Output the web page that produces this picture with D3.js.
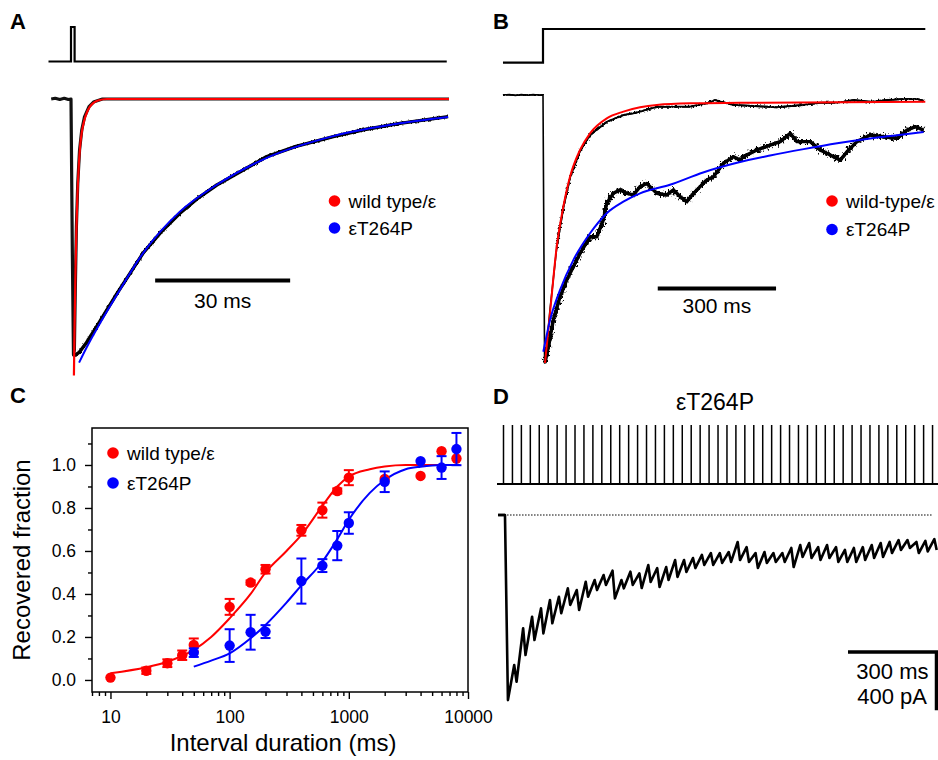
<!DOCTYPE html>
<html>
<head>
<meta charset="utf-8">
<script src="https://cdn.jsdelivr.net/npm/d3@7"></script>
<style>
    body { margin: 0; background: #fff; }
    text { font-family: "Liberation Sans", Arial, Helvetica, sans-serif; }
</style>
</head>
<body>
<div id="figure"></div>
<script>
// ---- Panel A: 1 ms pulse, current normalised to peak (time in ms) ----
const aWildTrace = [[-4.4, 0], [-3.5, 0.003], [-2.5, -0.002], [-1.5, 0.003], [-0.6, -0.002], [0, 0],
    [0.3, -0.6], [0.55, -1.0], [0.75, -0.98], [0.95, -0.75], [1.2, -0.5], [1.5, -0.33], [1.9, -0.2],
    [2.4, -0.12], [3, -0.07], [4, -0.03], [5, -0.012], [7, 0], [84, 0]];
const aMutTrace = [[0.55, -1.0], [1.0, -1.0], [1.8, -0.99], [3.5, -0.95], [6, -0.88], [10.2, -0.76],
    [16.1, -0.6], [20, -0.52], [24.2, -0.446], [28, -0.39], [32.4, -0.336], [38, -0.28], [43.5, -0.225],
    [50, -0.185], [58.3, -0.147], [65, -0.12], [73.1, -0.095], [83.8, -0.069]];
const aWildFit = [[0.65, -1.08], [0.8, -0.88], [1.0, -0.67], [1.2, -0.51], [1.4, -0.39], [1.7, -0.27],
    [2.0, -0.19], [2.4, -0.13], [3.0, -0.08], [3.6, -0.05], [4.2, -0.03], [5, -0.015], [6, -0.006],
    [8, 0], [84, 0]];
const aMutFit = [[1.8, -1.03], [3.5, -0.97], [6, -0.89], [10.2, -0.765], [16.1, -0.6], [24.2, -0.44],
    [32.4, -0.335], [43.5, -0.23], [58.3, -0.145], [73.1, -0.095], [83.8, -0.07]];
const aStimulus = [[-5, 0], [0, 0], [0, 1], [0.8, 1], [0.8, 0], [83.5, 0]];

// ---- Panel B: 1 s pulse ----
const bWildTrace = [[-101.5, 0], [-85, 0.002], [-70, -0.002], [-55, 0.002], [-40, -0.001], [-25, 0.002],
    [-10, -0.001], [0, 0], [4, -1.0], [5.1, -1.0], [17.8, -0.8], [34.8, -0.57], [51.5, -0.42], [68.5, -0.31],
    [93.9, -0.21], [119.3, -0.15], [161.7, -0.1], [203.8, -0.075], [229.2, -0.068], [246.2, -0.062],
    [288.6, -0.044], [330.7, -0.044], [373.1, -0.044], [415.5, -0.031], [436.5, -0.019], [483, -0.037],
    [533.8, -0.041], [593.1, -0.046], [660.7, -0.037], [703, -0.029], [745.4, -0.029], [787.6, -0.019],
    [829.9, -0.025], [872.3, -0.019], [914.5, -0.015], [948.5, -0.015], [965.2, -0.021]];
const bMutTrace = [[5.1, -1.0], [13.5, -0.939], [26.1, -0.84], [43.1, -0.753], [60.2, -0.69], [76.9, -0.641],
    [93.9, -0.591], [119.3, -0.529], [136.3, -0.529], [153, -0.466], [161.7, -0.404], [178.4, -0.367],
    [195.4, -0.354], [212.4, -0.367], [229.2, -0.373], [246.2, -0.342], [263.2, -0.33], [288.6, -0.367],
    [314, -0.373], [330.7, -0.354], [347.7, -0.379], [364.7, -0.398], [381.5, -0.367], [398.5, -0.342],
    [415.5, -0.317], [432.2, -0.305], [457.6, -0.255], [483, -0.23], [500, -0.243], [508.4, -0.23],
    [542.4, -0.205], [576.1, -0.187], [601.5, -0.174], [626.9, -0.143], [643.9, -0.174], [677.7, -0.174],
    [703, -0.205], [728.4, -0.224], [753.8, -0.243], [770.8, -0.212], [796.2, -0.174], [829.9, -0.149],
    [863.7, -0.156], [897.7, -0.162], [923.1, -0.131], [944.2, -0.118], [965.2, -0.131]];
const bWildFit = [[5.1, -1.0], [17.8, -0.813], [34.8, -0.566], [51.5, -0.417], [68.5, -0.305], [93.9, -0.205],
    [119.3, -0.143], [161.7, -0.087], [203.8, -0.062], [246.2, -0.046], [288.6, -0.037], [373, -0.031],
    [500, -0.029], [969.5, -0.025]];
const bMutFit = [[0.8, -0.958], [17.8, -0.84], [43.1, -0.728], [76.9, -0.616], [119.3, -0.516], [161.7, -0.441],
    [203.8, -0.398], [246.2, -0.367], [322, -0.335], [406, -0.289], [492, -0.253], [576, -0.226], [661, -0.202],
    [746, -0.18], [830, -0.162], [898, -0.15], [965, -0.138]];
const bStimulus = [[-101.5, 0], [0, 0], [0, 1], [969.5, 1]];

// ---- Panel C: recovery from desensitization ----
const cWildIntervals = [10, 20, 30, 40, 50, 100, 150, 200, 400, 600, 800, 1000, 2000, 4000, 6000, 8000];
const cWildMean = [0.011, 0.043, 0.078, 0.115, 0.163, 0.34, 0.453, 0.515, 0.696, 0.79, 0.879, 0.941, 0.935, 0.949, 1.064, 1.03];
const cWildErr = [0, 0.015, 0.018, 0.022, 0.03, 0.037, 0.01, 0.02, 0.025, 0.035, 0.012, 0.035, 0, 0, 0, 0];
const cMutIntervals = [50, 100, 150, 200, 400, 600, 800, 1000, 2000, 4000, 6000, 8000];
const cMutMean = [0.127, 0.16, 0.222, 0.225, 0.46, 0.532, 0.625, 0.73, 0.922, 1.018, 0.988, 1.074];
const cMutErr = [0.02, 0.076, 0.081, 0.03, 0.105, 0.03, 0.068, 0.05, 0.048, 0, 0.053, 0.075];
const cWildFitX = [10, 20, 30, 50, 70, 100, 150, 200, 300, 400, 600, 800, 1000, 1500, 2000, 3000, 5000, 8500];
const cWildFitY = [0.031, 0.059, 0.085, 0.14, 0.2, 0.287, 0.4, 0.5, 0.6, 0.675, 0.81, 0.9, 0.946, 0.98, 0.993, 1.0, 1.0, 1.0];
const cMutFitX = [50, 70, 100, 150, 200, 300, 400, 600, 800, 1000, 1500, 2000, 3000, 4000, 6000, 8500];
const cMutFitY = [0.062, 0.09, 0.124, 0.194, 0.256, 0.36, 0.44, 0.55, 0.655, 0.745, 0.87, 0.93, 0.98, 0.992, 1.0, 1.0];
const cMajorX = [10, 100, 1000, 10000];
const cMajorY = [0, 0.2, 0.4, 0.6, 0.8, 1.0];
const cMinorY = [0.1, 0.3, 0.5, 0.7, 0.9, 1.1];

// ---- Panel D: 33 Hz train, eT264P (current in pA) ----
const dStimInterval = 30.3;
const dStimCount = 49;
const dPeak = -1270;
const dHighs = [-1029, -777, -698, -640, -583, -561, -503, -515, -458, -446, -412, -382, -446, -389, -400,
    -343, -364, -357, -309, -309, -295, -274, -261, -261, -254, -185, -220, -261, -254, -261,
    -261, -226, -206, -192, -220, -206, -220, -240, -226, -220, -206, -192, -185, -172, -172, -185, -178, -165];
const dLows = [-1144, -961, -858, -812, -743, -674, -617, -652, -561, -515, -480, -572, -503, -480, -501,
    -460, -494, -446, -425, -391, -364, -343, -343, -329, -322, -309, -322, -364, -329, -322,
    -322, -357, -288, -295, -309, -295, -322, -322, -322, -309, -295, -288, -261, -240, -226, -261, -250, -240];

const RED = "#ff0000", BLUE = "#0000ff";

const svg = d3.select("#figure").append("svg")
    .attr("width", 938)
    .attr("height", 760)
    .style("background", "#fff");

// recording noise look for the raw traces (rendering effect only)
const defs = svg.append("defs");
function noiseFilter(id, freq, scale) {
    const f = defs.append("filter").attr("id", id)
        .attr("x", "-5%").attr("y", "-10%").attr("width", "110%").attr("height", "120%");
    f.append("feTurbulence")
        .attr("type", "fractalNoise")
        .attr("baseFrequency", freq)
        .attr("numOctaves", 2)
        .attr("seed", 4)
        .attr("result", "noise");
    f.append("feDisplacementMap")
        .attr("in", "SourceGraphic").attr("in2", "noise")
        .attr("scale", scale)
        .attr("xChannelSelector", "R").attr("yChannelSelector", "G");
}
noiseFilter("noiseB", "0.6 0.35", 10);
noiseFilter("noiseA", "0.7 0.4", 4);

function linePath(x, y, curve) {
    return d3.line()
        .x(d => x(d[0]))
        .y(d => y(d[1]))
        .curve(curve || d3.curveLinear);
}

// raw trace: solid core plus a noisy overlay
function rawTrace(g, d, core, hair, filterId) {
    g.append("path")
        .attr("d", d)
        .attr("fill", "none").attr("stroke", "#000").attr("stroke-width", core)
        .attr("stroke-linejoin", "round");
    g.append("path")
        .attr("d", d)
        .attr("fill", "none").attr("stroke", "#000").attr("stroke-width", hair)
        .attr("stroke-linejoin", "round")
        .attr("filter", "url(#" + filterId + ")");
}

function panelLabel(letter, x, y) {
    svg.append("text")
        .attr("x", x).attr("y", y)
        .style("font-size", "22px")
        .style("font-weight", "bold")
        .text(letter);
}

function legend(g, x, y, items, size) {
    items.forEach(function (it, i) {
        g.append("circle")
            .attr("cx", x).attr("cy", y + i * it.step)
            .attr("r", 5.8)
            .attr("fill", it.color);
        g.append("text")
            .attr("x", x + 14).attr("y", y + i * it.step + 6.5)
            .style("font-size", size + "px")
            .text(it.label);
    });
}

// ================= Panel A =================
panelLabel("A", 10, 29);
const gA = svg.append("g");
const xA = d3.scaleLinear().domain([0, 30]).range([71, 206]);
const yA = d3.scaleLinear().domain([0, -1]).range([99, 355]);
const yAStim = d3.scaleLinear().domain([0, 1]).range([61.5, 27]);

gA.append("path")
    .attr("d", linePath(xA, yAStim)(aStimulus))
    .attr("fill", "none").attr("stroke", "#000").attr("stroke-width", 2.2);

gA.append("path")
    .attr("d", linePath(xA, yA)(aWildTrace))
    .attr("fill", "none").attr("stroke", "#111").attr("stroke-width", 3.2)
    .attr("stroke-linejoin", "round");
rawTrace(gA, linePath(xA, yA)(aMutTrace), 3.4, 2.5, "noiseA");
gA.append("path")
    .attr("d", linePath(xA, yA, d3.curveMonotoneX)(aWildFit))
    .attr("fill", "none").attr("stroke", RED).attr("stroke-width", 2.2);
gA.append("path")
    .attr("d", linePath(xA, yA, d3.curveMonotoneX)(aMutFit))
    .attr("fill", "none").attr("stroke", BLUE).attr("stroke-width", 2);

// 30 ms scale bar
gA.append("line")
    .attr("x1", xA(18.7)).attr("x2", xA(18.7 + 30))
    .attr("y1", 280.5).attr("y2", 280.5)
    .attr("stroke", "#000").attr("stroke-width", 4);
gA.append("text")
    .attr("x", xA(18.7 + 15)).attr("y", 308)
    .attr("text-anchor", "middle")
    .style("font-size", "21px")
    .text("30 ms");

legend(gA, 334.5, 201, [
    {color: RED, label: "wild type/\u03b5", step: 27},
    {color: BLUE, label: "\u03b5T264P", step: 27}
], 19);

// ================= Panel B =================
panelLabel("B", 493, 28.5);
const gB = svg.append("g");
const xB = d3.scaleLinear().domain([0, 300]).range([543, 661.3]);
const yB = d3.scaleLinear().domain([0, -1]).range([95, 363]);
const yBStim = d3.scaleLinear().domain([0, 1]).range([62.7, 29]);

gB.append("path")
    .attr("d", linePath(xB, yBStim)(bStimulus))
    .attr("fill", "none").attr("stroke", "#000").attr("stroke-width", 2.2);

gB.append("path")
    .attr("d", linePath(xB, yB)(bWildTrace))
    .attr("fill", "none").attr("stroke", "#000").attr("stroke-width", 1.6)
    .attr("stroke-linejoin", "round");
// noisy overlay on the baseline and on the late part of the wild-type trace
[bWildTrace.filter(d => d[0] <= 0), bWildTrace.filter(d => d[0] > 30)].forEach(function (seg) {
    gB.append("path")
        .attr("d", linePath(xB, yB)(seg))
        .attr("fill", "none").attr("stroke", "#000").attr("stroke-width", 2)
        .attr("filter", "url(#noiseA)");
});
rawTrace(gB, linePath(xB, yB)(bMutTrace), 3.4, 3.4, "noiseB");
gB.append("path")
    .attr("d", linePath(xB, yB, d3.curveMonotoneX)(bWildFit))
    .attr("fill", "none").attr("stroke", RED).attr("stroke-width", 2);
gB.append("path")
    .attr("d", linePath(xB, yB, d3.curveMonotoneX)(bMutFit))
    .attr("fill", "none").attr("stroke", BLUE).attr("stroke-width", 2);

// 300 ms scale bar
gB.append("line")
    .attr("x1", xB(291)).attr("x2", xB(591))
    .attr("y1", 288.5).attr("y2", 288.5)
    .attr("stroke", "#000").attr("stroke-width", 4);
gB.append("text")
    .attr("x", xB(441)).attr("y", 313)
    .attr("text-anchor", "middle")
    .style("font-size", "21px")
    .text("300 ms");

legend(gB, 832, 201, [
    {color: RED, label: "wild-type/\u03b5", step: 28.5},
    {color: BLUE, label: "\u03b5T264P", step: 28.5}
], 19);

// ================= Panel C =================
panelLabel("C", 10, 403);
const gC = svg.append("g");
const cBox = {left: 92, right: 468, top: 428, bottom: 692};
const xC = d3.scaleLog().domain([7, 10000]).range([cBox.left, cBox.right]);
const yC = d3.scaleLinear().domain([-0.056, 1.172]).range([cBox.bottom, cBox.top]);

gC.append("rect")
    .attr("x", cBox.left).attr("y", cBox.top)
    .attr("width", cBox.right - cBox.left).attr("height", cBox.bottom - cBox.top)
    .attr("fill", "none").attr("stroke", "#000").attr("stroke-width", 1.5);

const minorX = [];
[1, 10, 100, 1000].forEach(function (dec) {
    for (let m = 2; m <= 9; m++) {
        if (dec * m >= 7 && dec * m < 10000) minorX.push(dec * m);
    }
});

function styleAxis(g) {
    g.select(".domain").remove();
    g.selectAll("line").attr("stroke", "#000").attr("stroke-width", 1.4);
    g.selectAll("text").style("font-size", "17.5px").attr("fill", "#000")
        .style("font-family", "'Liberation Sans', Arial, sans-serif");
}

gC.append("g")
    .attr("transform", "translate(0," + cBox.bottom + ")")
    .call(d3.axisBottom(xC).tickValues(cMajorX).tickFormat(d3.format("d"))
        .tickSize(7).tickSizeOuter(0).tickPadding(12))
    .call(styleAxis);
gC.append("g")
    .attr("transform", "translate(0," + cBox.bottom + ")")
    .call(d3.axisBottom(xC).tickValues(minorX).tickFormat("").tickSize(4).tickSizeOuter(0))
    .call(styleAxis);
gC.append("g")
    .attr("transform", "translate(" + cBox.left + ",0)")
    .call(d3.axisLeft(yC).tickValues(cMajorY).tickFormat(d3.format(".1f"))
        .tickSize(7).tickSizeOuter(0).tickPadding(9))
    .call(styleAxis);
gC.append("g")
    .attr("transform", "translate(" + cBox.left + ",0)")
    .call(d3.axisLeft(yC).tickValues(cMinorY).tickFormat("").tickSize(4).tickSizeOuter(0))
    .call(styleAxis);

gC.append("text")
    .attr("transform", "translate(30," + (cBox.top + cBox.bottom) / 2 + ") rotate(-90)")
    .attr("text-anchor", "middle")
    .style("font-size", "24px")
    .text("Recovered fraction");
gC.append("text")
    .attr("x", (cBox.left + cBox.right) / 2 + 3).attr("y", 751)
    .attr("text-anchor", "middle")
    .style("font-size", "24px")
    .text("Interval duration (ms)");

// fits
const cLine = d3.line().x(d => xC(d[0])).y(d => yC(d[1])).curve(d3.curveMonotoneX);
gC.append("path")
    .attr("d", cLine(cWildFitX.map((v, i) => [v, cWildFitY[i]])))
    .attr("fill", "none").attr("stroke", RED).attr("stroke-width", 2);
gC.append("path")
    .attr("d", cLine(cMutFitX.map((v, i) => [v, cMutFitY[i]])))
    .attr("fill", "none").attr("stroke", BLUE).attr("stroke-width", 2);

function drawPoints(xs, means, errs, color) {
    const pts = xs.map((v, i) => ({x: v, m: means[i], e: errs[i]}));
    const g = gC.append("g");
    const withErr = pts.filter(d => d.e > 0);
    g.selectAll(".err").data(withErr).enter().append("line")
        .attr("x1", d => xC(d.x)).attr("x2", d => xC(d.x))
        .attr("y1", d => yC(d.m - d.e)).attr("y2", d => yC(d.m + d.e))
        .attr("stroke", color).attr("stroke-width", 2);
    [-1, 1].forEach(function (s) {
        g.selectAll(".cap" + s).data(withErr).enter().append("line")
            .attr("x1", d => xC(d.x) - 5).attr("x2", d => xC(d.x) + 5)
            .attr("y1", d => yC(d.m + s * d.e)).attr("y2", d => yC(d.m + s * d.e))
            .attr("stroke", color).attr("stroke-width", 2);
    });
    g.selectAll("circle").data(pts).enter().append("circle")
        .attr("cx", d => xC(d.x)).attr("cy", d => yC(d.m))
        .attr("r", 5.2)
        .attr("fill", color);
}
drawPoints(cWildIntervals, cWildMean, cWildErr, RED);
drawPoints(cMutIntervals, cMutMean, cMutErr, BLUE);

legend(gC, 113, 453, [
    {color: RED, label: "wild type/\u03b5", step: 30},
    {color: BLUE, label: "\u03b5T264P", step: 30}
], 19);

// ================= Panel D =================
panelLabel("D", 493, 404);
const gD = svg.append("g");
const xD = d3.scaleLinear().domain([0, 300]).range([503.5, 592]);
const yD = d3.scaleLinear().domain([0, -400]).range([515, 573.3]);

gD.append("text")
    .attr("x", 715).attr("y", 410)
    .attr("text-anchor", "middle")
    .style("font-size", "23px")
    .text("\u03b5T264P");

// stimulus train
const stimTimes = d3.range(dStimCount).map(k => k * dStimInterval);
gD.append("line")
    .attr("x1", 497).attr("x2", 938)
    .attr("y1", 484).attr("y2", 484)
    .attr("stroke", "#000").attr("stroke-width", 1.8);
gD.selectAll(".stim").data(stimTimes).enter().append("line")
    .attr("class", "stim")
    .attr("x1", d => xD(d)).attr("x2", d => xD(d))
    .attr("y1", 425).attr("y2", 484)
    .attr("stroke", "#000").attr("stroke-width", 1.5);

// baseline marker and dotted zero line
gD.append("line")
    .attr("x1", 498).attr("x2", xD(5))
    .attr("y1", yD(0)).attr("y2", yD(0))
    .attr("stroke", "#000").attr("stroke-width", 2.5);
gD.append("line")
    .attr("x1", xD(12)).attr("x2", 933)
    .attr("y1", yD(0)).attr("y2", yD(0))
    .attr("stroke", "#000").attr("stroke-width", 1.2)
    .attr("stroke-dasharray", "1.5,1.5");

// current trace built from the read peaks
const dTrace = [[-18, 0], [5, 0], [15, dPeak]];
dHighs.forEach(function (h, i) {
    const t = (i + 1) * dStimInterval;
    dTrace.push([t + 6, h]);
    dTrace.push([t + 14, dLows[i]]);
});
gD.append("path")
    .attr("d", linePath(xD, yD)(dTrace))
    .attr("fill", "none").attr("stroke", "#000").attr("stroke-width", 2.6)
    .attr("stroke-linejoin", "round");

// scale bars 300 ms / 400 pA
const barRight = 936.5, barTop = 652;
const barW = xD(300) - xD(0), barH = yD(-400) - yD(0);
gD.append("path")
    .attr("d", "M" + (barRight - barW) + "," + barTop + "H" + barRight + "V" + (barTop + barH))
    .attr("fill", "none").attr("stroke", "#000").attr("stroke-width", 3.5);
gD.append("text")
    .attr("x", 928.5).attr("y", 678.5)
    .attr("text-anchor", "end")
    .style("font-size", "22px")
    .text("300 ms");
gD.append("text")
    .attr("x", 927).attr("y", 703.5)
    .attr("text-anchor", "end")
    .style("font-size", "22px")
    .text("400 pA");
</script>
</body>
</html>
